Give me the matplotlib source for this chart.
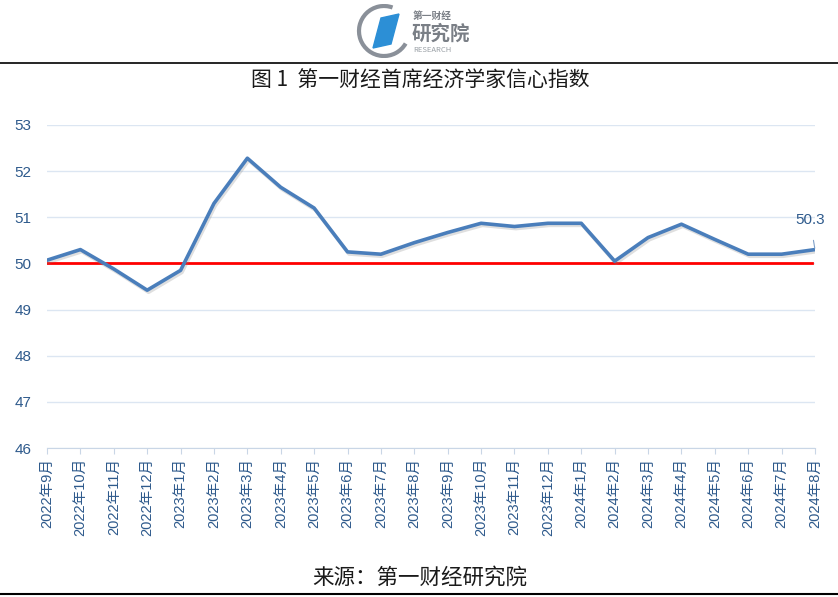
import numpy as np
import matplotlib.pyplot as plt
import matplotlib as mpl
import matplotlib.patheffects as pe
from matplotlib.patches import Polygon, Arc

mpl.rcParams['font.family'] = ['Noto Sans CJK SC', 'DejaVu Sans']

months = ['2022年9月', '2022年10月', '2022年11月', '2022年12月',
          '2023年1月', '2023年2月', '2023年3月', '2023年4月', '2023年5月',
          '2023年6月', '2023年7月', '2023年8月', '2023年9月', '2023年10月',
          '2023年11月', '2023年12月', '2024年1月', '2024年2月', '2024年3月',
          '2024年4月', '2024年5月', '2024年6月', '2024年7月', '2024年8月']
index = [50.07, 50.3, 49.88, 49.42, 49.85, 51.3, 52.28, 51.65, 51.2,
         50.25, 50.2, 50.45, 50.67, 50.87, 50.8, 50.87, 50.87, 50.05,
         50.56, 50.85, 50.52, 50.2, 50.2, 50.3]
baseline = 50
yticks = [46, 47, 48, 49, 50, 51, 52, 53]

W, H = 838, 597
fig = plt.figure(figsize=(W/100, H/100), dpi=100)
ax = fig.add_axes([47/W, 1-448/H, (815-47)/W, (448-125)/H])

x = np.arange(len(months))
ax.plot(x, index, color='#4A7EBB', lw=2.6, solid_joinstyle='round',
        path_effects=[pe.SimpleLineShadow(offset=(1, -1.5), shadow_color='gray', alpha=0.25),
                      pe.Normal()], zorder=3)
ax.plot([-0.18, len(months)-1.1], [baseline, baseline], color='#FF0000', lw=2, zorder=2)

ax.set_xlim(0, len(months)-1)
ax.set_ylim(46, 53)
ax.set_yticks(yticks)
ax.set_xticks(x)
ax.set_xticklabels(months, rotation=90, fontsize=10.5, color='#2E5A8C',
                   fontfamily=['Liberation Sans', 'Noto Sans CJK SC'])
ax.tick_params(axis='x', length=4, color='#C9D6E6', pad=3)
ax.tick_params(axis='y', length=0, labelsize=11, labelcolor='#2E5A8C', pad=11)
for lab in ax.get_yticklabels():
    lab.set_fontfamily(['Liberation Sans', 'DejaVu Sans'])
ax.grid(axis='y', color='#DCE6F2', lw=1)
ax.set_axisbelow(True)
for s in ['top', 'right', 'left']:
    ax.spines[s].set_visible(False)
ax.spines['bottom'].set_color('#C9D6E6')

ax.annotate(f'{index[-1]:.1f}', xy=(x[-1], index[-1]), xytext=(x[-1]-0.15, 50.95),
            ha='center', va='center', fontsize=11, color='#2E5A8C',
            fontfamily=['Liberation Sans'],
            arrowprops=dict(arrowstyle='-', color='#7FA0C8', lw=0.8,
                            shrinkA=8, shrinkB=1))

# header / footer
fig.text(420/W, 1-80/H, '图 1  第一财经首席经济学家信心指数', ha='center', va='center',
         fontsize=15, color='#1a1a1a')
fig.text(420/W, 1-578/H, '来源：第一财经研究院', ha='center', va='center',
         fontsize=15.5, color='#1a1a1a')
fig.add_artist(plt.Line2D([0, 1], [1-63/H, 1-63/H], color='black', lw=1.2))
fig.add_artist(plt.Line2D([0, 1], [1-594/H, 1-594/H], color='black', lw=1.5))

# logo
lax = fig.add_axes([355/W, 1-58/H, 130/W, 54/H])
lax.set_xlim(0, 130)
lax.set_ylim(0, 54)
lax.set_aspect('equal')
lax.axis('off')
lax.add_patch(Arc((29, 27), 50, 50, theta1=70, theta2=330, color='#8A9099', lw=3))
lax.add_patch(Polygon([[18, 10], [26, 40], [44, 44], [36, 14]], closed=True,
                      color='#2C8FD6'))
lax.text(58, 42, '第一财经', fontsize=7, color='#7A7F86', va='center', fontweight='bold')
lax.text(57, 24, '研究院', fontsize=14, color='#7A7F86', va='center', fontweight='bold')
lax.text(58, 8, 'RESEARCH', fontsize=5.5, color='#9AA0A6', va='center')

fig.savefig('out.png', dpi=100)
